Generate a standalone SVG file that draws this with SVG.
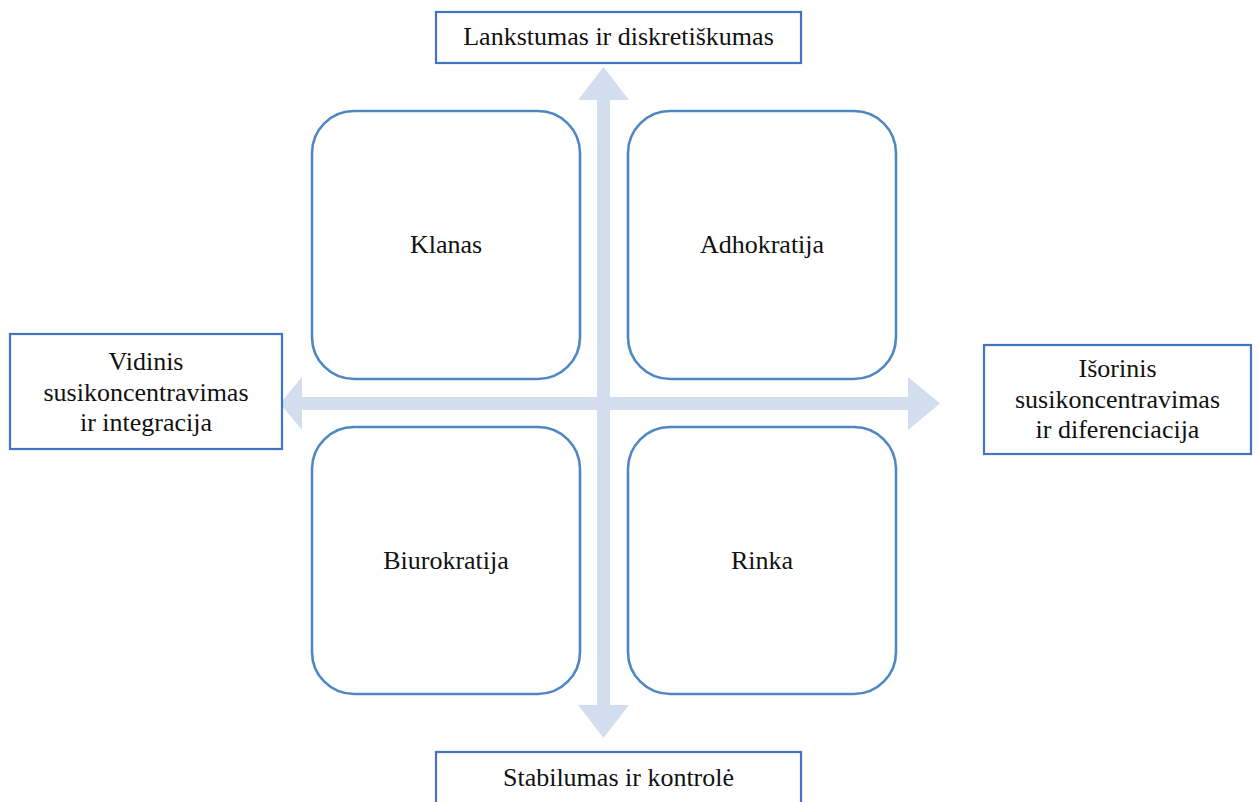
<svg xmlns="http://www.w3.org/2000/svg" width="1259" height="802" viewBox="0 0 1259 802">
  <style>
    .label { font-family: "Liberation Serif", "Times New Roman", serif; font-size: 26px; fill: #111; text-anchor: middle; }
    .axis-box { fill: #fff; stroke: #4472C4; stroke-width: 2.2; }
    .quad { fill: #fff; stroke: #4F87C3; stroke-width: 2.6; }
    .arrow { fill: #D2DDEE; }
  </style>
  <rect width="1259" height="802" fill="#fff"/>

  <!-- axes: two double-headed block arrows -->
  <g id="connectors">
    <path class="arrow" d="M597,100 L578,100 L603.5,67 L629,100 L610,100 L610,705 L629,705 L603.5,738 L578,705 L597,705 Z"/>
    <path class="arrow" d="M302,397 L302,377 L280,403.5 L302,430 L302,410 L908,410 L908,430 L940,403.5 L908,377 L908,397 Z"/>
  </g>

  <!-- quadrants -->
  <g id="klanas">
    <rect class="quad" x="312" y="111" width="268" height="268" rx="42" ry="42"/>
    <text class="label" x="446" y="253">Klanas</text>
  </g>
  <g id="adhokratija">
    <rect class="quad" x="628" y="111" width="268" height="268" rx="42" ry="42"/>
    <text class="label" x="762" y="253">Adhokratija</text>
  </g>
  <g id="biurokratija">
    <rect class="quad" x="312" y="427" width="268" height="267" rx="42" ry="42"/>
    <text class="label" x="446" y="569">Biurokratija</text>
  </g>
  <g id="rinka">
    <rect class="quad" x="628" y="427" width="268" height="267" rx="42" ry="42"/>
    <text class="label" x="762" y="569">Rinka</text>
  </g>

  <!-- axis end labels -->
  <g id="top-label">
    <rect class="axis-box" x="436" y="12" width="365" height="51"/>
    <text class="label" x="618.5" y="45">Lankstumas ir diskretiškumas</text>
  </g>
  <g id="bottom-label">
    <rect class="axis-box" x="436" y="752" width="365" height="60"/>
    <text class="label" x="618.5" y="786">Stabilumas ir kontrolė</text>
  </g>
  <g id="left-label">
    <rect class="axis-box" x="10" y="334" width="272" height="115"/>
    <text class="label" x="146" y="370">Vidinis</text>
    <text class="label" x="146" y="401">susikoncentravimas</text>
    <text class="label" x="146" y="431">ir integracija</text>
  </g>
  <g id="right-label">
    <rect class="axis-box" x="984" y="345" width="267" height="109"/>
    <text class="label" x="1117.5" y="377">Išorinis</text>
    <text class="label" x="1117.5" y="408">susikoncentravimas</text>
    <text class="label" x="1117.5" y="438">ir diferenciacija</text>
  </g>
</svg>
